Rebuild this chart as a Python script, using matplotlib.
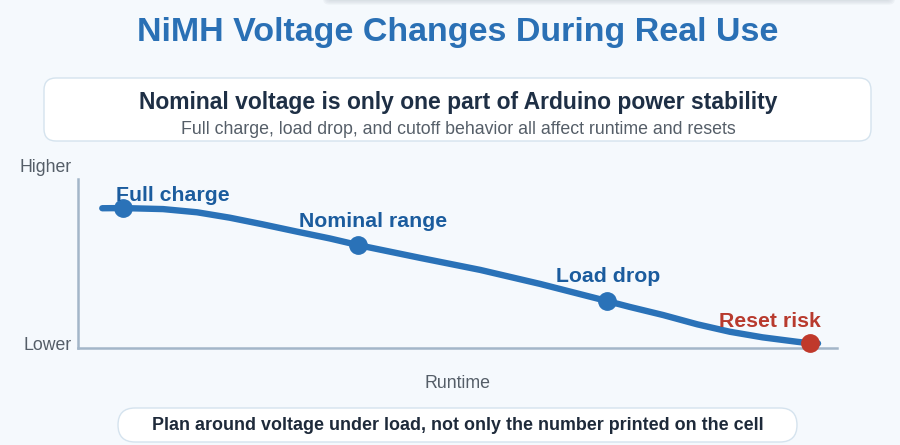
import matplotlib
matplotlib.use('Agg')
import matplotlib.pyplot as plt
from matplotlib.patches import FancyBboxPatch

plt.rcParams['font.family'] = ['Liberation Sans', 'DejaVu Sans']

# curve (runtime %, relative voltage %)
runtime = [3.2, 5.9, 11.2, 15.7, 20.0, 24.3, 28.9, 33.2, 36.9, 45.1, 53.0, 60.9,
           69.7, 72.7, 77.1, 81.6, 85.9, 90.2, 94.7, 96.4, 97.5]
voltage = [82.7, 82.8, 82.2, 80.3, 77.1, 73.2, 68.8, 64.8, 60.9, 53.3, 46.2, 37.9,
           27.8, 24.3, 19.5, 14.0, 9.6, 6.3, 3.7, 2.8, 2.7]

# marked stages
stage_names = ['Full charge', 'Nominal range', 'Load drop', 'Reset risk']
stage_x = [5.9, 36.9, 69.7, 96.4]
stage_y = [82.8, 60.9, 27.8, 2.8]
stage_colors = ['#2a72b8', '#2a72b8', '#2a72b8', '#c0392b']
label_colors = ['#1b5c9e', '#1b5c9e', '#1b5c9e', '#b83a2e']
label_dx = [6.6, 2.0, 0.1, -5.2]
label_dy = [7.4, 13.9, 14.6, 13.0]

title = 'NiMH Voltage Changes During Real Use'
box_title = 'Nominal voltage is only one part of Arduino power stability'
box_sub = 'Full charge, load drop, and cutoff behavior all affect runtime and resets'
footer = 'Plan around voltage under load, not only the number printed on the cell'

bg = '#f5f9fd'
W, H = 900, 445
fig = plt.figure(figsize=(W / 100, H / 100), dpi=100, facecolor=bg)

# overlay in pixel coordinates
ov = fig.add_axes([0, 0, 1, 1])
ov.set_xlim(0, W)
ov.set_ylim(H, 0)
ov.axis('off')
ov.set_zorder(0)

# faint shadow strip at the top edge
for i, a in enumerate([0.05, 0.05, 0.06, 0.07]):
    ov.add_patch(FancyBboxPatch((326 - i, -20), 566 + 2 * i, 20 + 1 + i * 1.2,
                                boxstyle='round,pad=0,rounding_size=6',
                                fc='#7a8795', ec='none', alpha=a))
ov.add_patch(FancyBboxPatch((328, -20), 562, 20, boxstyle='round,pad=0,rounding_size=6',
                            fc='#f7f9fb', ec='none'))

ov.text(458, 32, title, ha='center', va='center', fontsize=24.5, fontweight='bold', color='#2a70b5')

ov.add_patch(FancyBboxPatch((44, 78), 827, 63, boxstyle='round,pad=0,rounding_size=12',
                            fc='white', ec='#d5e3ee', lw=1.0))
ov.text(458, 103, box_title, ha='center', va='center', fontsize=16.5, fontweight='bold', color='#1e2f45')
ov.text(458, 129, box_sub, ha='center', va='center', fontsize=12.8, color='#555e68')

ov.text(72, 167, 'Higher', ha='right', va='center', fontsize=12.7, color='#555e68')
ov.text(72, 346, 'Lower', ha='right', va='center', fontsize=12.7, color='#555e68')
ov.text(458, 384, 'Runtime', ha='center', va='center', fontsize=12.8, color='#555e68')

ov.add_patch(FancyBboxPatch((118, 408), 679, 34, boxstyle='round,pad=0,rounding_size=17',
                            fc='white', ec='#d5e3ee', lw=1.0))
ov.text(458, 425, footer, ha='center', va='center', fontsize=12.9, fontweight='bold', color='#1e2a3a')

# chart area
x0, x1, y0, y1 = 78, 837, 179, 348
ax = fig.add_axes([x0 / W, 1 - y1 / H, (x1 - x0) / W, (y1 - y0) / H])
ax.set_facecolor('none')
ax.set_xlim(0, 100)
ax.set_ylim(0, 100)
for s in ['top', 'right']:
    ax.spines[s].set_visible(False)
for s in ['left', 'bottom']:
    ax.spines[s].set_color('#a3b6c9')
    ax.spines[s].set_linewidth(1.8)
ax.set_xticks([])
ax.set_yticks([])

ax.plot(runtime, voltage, color='#2a72b8', lw=4.6, solid_capstyle='round',
        solid_joinstyle='round', clip_on=False, zorder=2)
for name, x, y, c, lc, dx, dy in zip(stage_names, stage_x, stage_y, stage_colors,
                                     label_colors, label_dx, label_dy):
    ax.plot(x, y, 'o', ms=12.5, color=c, mec=c, clip_on=False, zorder=3)
    ax.text(x + dx, y + dy, name, ha='center', va='center', fontsize=15.3,
            fontweight='bold', color=lc, zorder=4)

fig.savefig('out.png', dpi=100, facecolor=bg)
